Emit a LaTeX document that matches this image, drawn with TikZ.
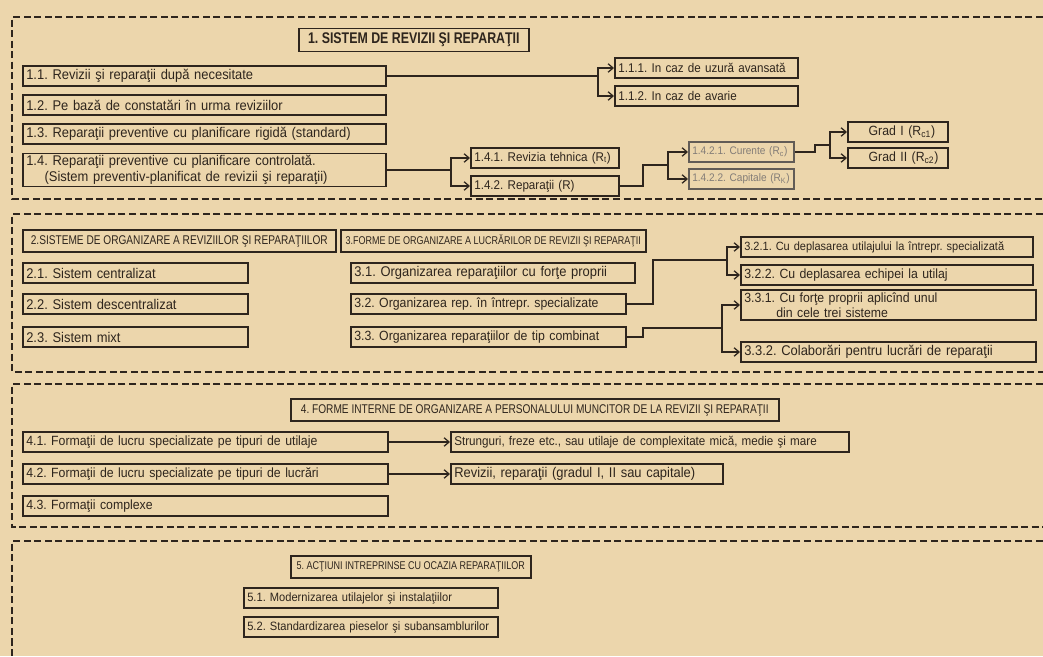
\documentclass[tikz,border=0pt]{standalone}
\usepackage{fontspec}
\setmainfont{Liberation Sans}[FakeStretch=0.92]
\newfontfamily\titlefont{Liberation Sans}[FakeStretch=0.8]
\usepackage{tikz}
\usetikzlibrary{arrows.meta}
\frenchspacing
\definecolor{paper}{RGB}{236,214,172}
\definecolor{ink}{RGB}{46,37,29}
\tikzset{
  box/.style={draw=ink,line width=1.1pt,anchor=west,align=left,inner xsep=2.5pt,inner ysep=1.5pt,minimum height=0.5cm,font=\fontsize{10}{11}\selectfont},
  bw/.code={\pgfmathsetlengthmacro\boxw{#1*0.025cm-5pt}\edef\tmpbw{\noexpand\tikzset{text width=\boxw}}\tmpbw},
  fs/.style={font=\fontsize{#1}{11}\selectfont},
  head/.style={draw=ink,line width=1.1pt,anchor=west,inner xsep=2.5pt,minimum height=0.55cm},
  hf/.style={font=\titlefont\fontsize{#1}{10}\selectfont},
  hw/.style={minimum width=#1*0.025cm},
  frame/.style={draw=ink,line width=1pt,dash pattern=on 5pt off 2.5pt},
  link/.style={draw=ink,line width=0.9pt},
  arr/.style={link,-{Straight Barb[length=3.5pt,width=6pt]}},
  faded/.style={text=ink!60,draw=ink!75},
}

\begin{document}
\begin{tikzpicture}[x=0.025cm,y=-0.025cm,every node/.style={text=ink}]
  \fill[paper] (0,0) rectangle (1043,656);
  \useasboundingbox (0,0) rectangle (1043,656);
  \draw[frame] (1043,17) -- (12,17) -- (12,199) -- (1043,199);
  \draw[frame] (1043,214) -- (12,214) -- (12,372) -- (1043,372);
  \draw[frame] (1043,384) -- (12,384) -- (12,527) -- (1043,527);
  \draw[frame] (1043,541) -- (12,541) -- (12,656);

  \node[head,hw=230,font=\titlefont\bfseries\fontsize{11}{12}\selectfont] (t1) at (298,40) {1. SISTEM DE REVIZII ŞI REPARAŢII};
  \node[box,bw=363] (b11) at (22,76) {1.1. Revizii şi reparaţii după necesitate};
  \node[box,bw=363] (b12) at (22,105) {1.2. Pe bază de constatări în urma reviziilor};
  \node[box,bw=363] (b13) at (22,134) {1.3. Reparaţii preventive cu planificare rigidă (standard)};
  \node[box,bw=363] (b14) at (22,170) {1.4. Reparaţii preventive cu planificare controlată.\\\hspace*{1.3em}(Sistem preventiv-planificat de revizii şi reparaţii)};
  \node[box,bw=183,fs=9] (b111) at (614,68) {1.1.1. In caz de uzură avansată};
  \node[box,bw=183,fs=9] (b112) at (614,96) {1.1.2. In caz de avarie};
  \node[box,bw=148,fs=9] (b141) at (470,158) {1.4.1. Revizia tehnica (R\textsubscript{t})};
  \node[box,bw=148,fs=9] (b142) at (470,186) {1.4.2. Reparaţii (R)};
  \node[box,faded,bw=105,fs=7.8] (b1421) at (688,152) {1.4.2.1. Curente (R\textsubscript{c})};
  \node[box,faded,bw=105,fs=7.8] (b1422) at (688,179) {1.4.2.2. Capitale (R\textsubscript{K})};
  \node[box,bw=100,fs=9.5] (bg1) at (847,132) {\hspace*{1.3em}Grad I (R\textsubscript{c1})};
  \node[box,bw=100,fs=9.5] (bg2) at (847,158) {\hspace*{1.3em}Grad II (R\textsubscript{c2})};

  \coordinate (j11) at (598,76);
  \draw[link] (b11) -- (j11);
  \draw[arr] (j11) |- (b111);
  \draw[arr] (j11) |- (b112);
  \coordinate (j14) at (451,170);
  \draw[link] (b14) -- (j14);
  \draw[arr] (j14) |- (b141);
  \draw[arr] (j14) |- (b142);
  \coordinate (s142) at (643,165);
  \coordinate (j142) at (668,165);
  \draw[link] (b142) -| (s142) -- (j142);
  \draw[arr] (j142) |- (b1421);
  \draw[arr] (j142) |- (b1422);
  \coordinate (s1421) at (815,145);
  \coordinate (j1421) at (830,145);
  \draw[link] (b1421) -| (s1421) -- (j1421);
  \draw[arr] (j1421) |- (bg1);
  \draw[arr] (j1421) |- (bg2);

  \node[head,hw=313,hf=9] (t2) at (22,241) {2.SISTEME DE ORGANIZARE A REVIZIILOR ŞI REPARAŢIILOR};
  \node[box,bw=225] (b21) at (22,273) {2.1. Sistem centralizat};
  \node[box,bw=225] (b22) at (22,304) {2.2. Sistem descentralizat};
  \node[box,bw=225] (b23) at (22,337) {2.3. Sistem mixt};
  \node[head,hw=305,hf=8] (t3) at (340,241) {3.FORME DE ORGANIZARE A LUCRĂRILOR DE REVIZII ŞI REPARAŢII};
  \node[box,bw=284] (b31) at (350,273) {3.1. Organizarea reparaţiilor cu forţe proprii};
  \node[box,bw=275,fs=9.5] (b32) at (350,304) {3.2. Organizarea rep. în întrepr. specializate};
  \node[box,bw=275,fs=9.5] (b33) at (350,337) {3.3. Organizarea reparaţiilor de tip combinat};
  \node[box,bw=292,fs=8.5] (b321) at (740,247) {3.2.1. Cu deplasarea utilajului la întrepr. specializată};
  \node[box,bw=292,fs=9.5] (b322) at (740,275) {3.2.2. Cu deplasarea echipei la utilaj};
  \node[box,bw=295,fs=9.5] (b331) at (740,305) {3.3.1. Cu forţe proprii aplicînd unul\\\hspace*{2.4em}din cele trei sisteme};
  \node[box,bw=295] (b332) at (740,352) {3.3.2. Colaborări pentru lucrări de reparaţii};

  \coordinate (s32) at (653,260);
  \coordinate (j32) at (727,260);
  \draw[link] (b32) -| (s32) -- (j32);
  \draw[arr] (j32) |- (b321);
  \draw[arr] (j32) |- (b322);
  \coordinate (s33) at (643,328);
  \coordinate (j33) at (722,328);
  \draw[link] (b33) -| (s33) -- (j33);
  \draw[arr] (j33) |- (b331);
  \draw[arr] (j33) |- (b332);

  \node[head,hw=488,hf=9] (t4) at (290,410) {4. FORME INTERNE DE ORGANIZARE A PERSONALULUI MUNCITOR DE LA REVIZII ŞI REPARAŢII};
  \node[box,bw=365,fs=9.5] (b41) at (22,442) {4.1. Formaţii de lucru specializate pe tipuri de utilaje};
  \node[box,bw=365,fs=9.5] (b42) at (22,474) {4.2. Formaţii de lucru specializate pe tipuri de lucrări};
  \node[box,bw=365,fs=9.5] (b43) at (22,506) {4.3. Formaţii complexe};
  \node[box,bw=398,fs=9] (b411) at (450,442) {Strunguri, freze etc., sau utilaje de complexitate mică, medie şi mare};
  \node[box,bw=272] (b421) at (450,474) {Revizii, reparaţii (gradul I, II sau capitale)};
  \draw[arr] (b41) -- (b411);
  \draw[arr] (b42) -- (b421);

  \node[head,hw=240,hf=8] (t5) at (290,567) {5. ACŢIUNI INTREPRINSE CU OCAZIA REPARAŢIILOR};
  \node[box,bw=254,fs=8.6] (b51) at (243,598) {5.1. Modernizarea utilajelor şi instalaţiilor};
  \node[box,bw=254,fs=8.6] (b52) at (243,627) {5.2. Standardizarea pieselor şi subansamblurilor};
\end{tikzpicture}
\end{document}
